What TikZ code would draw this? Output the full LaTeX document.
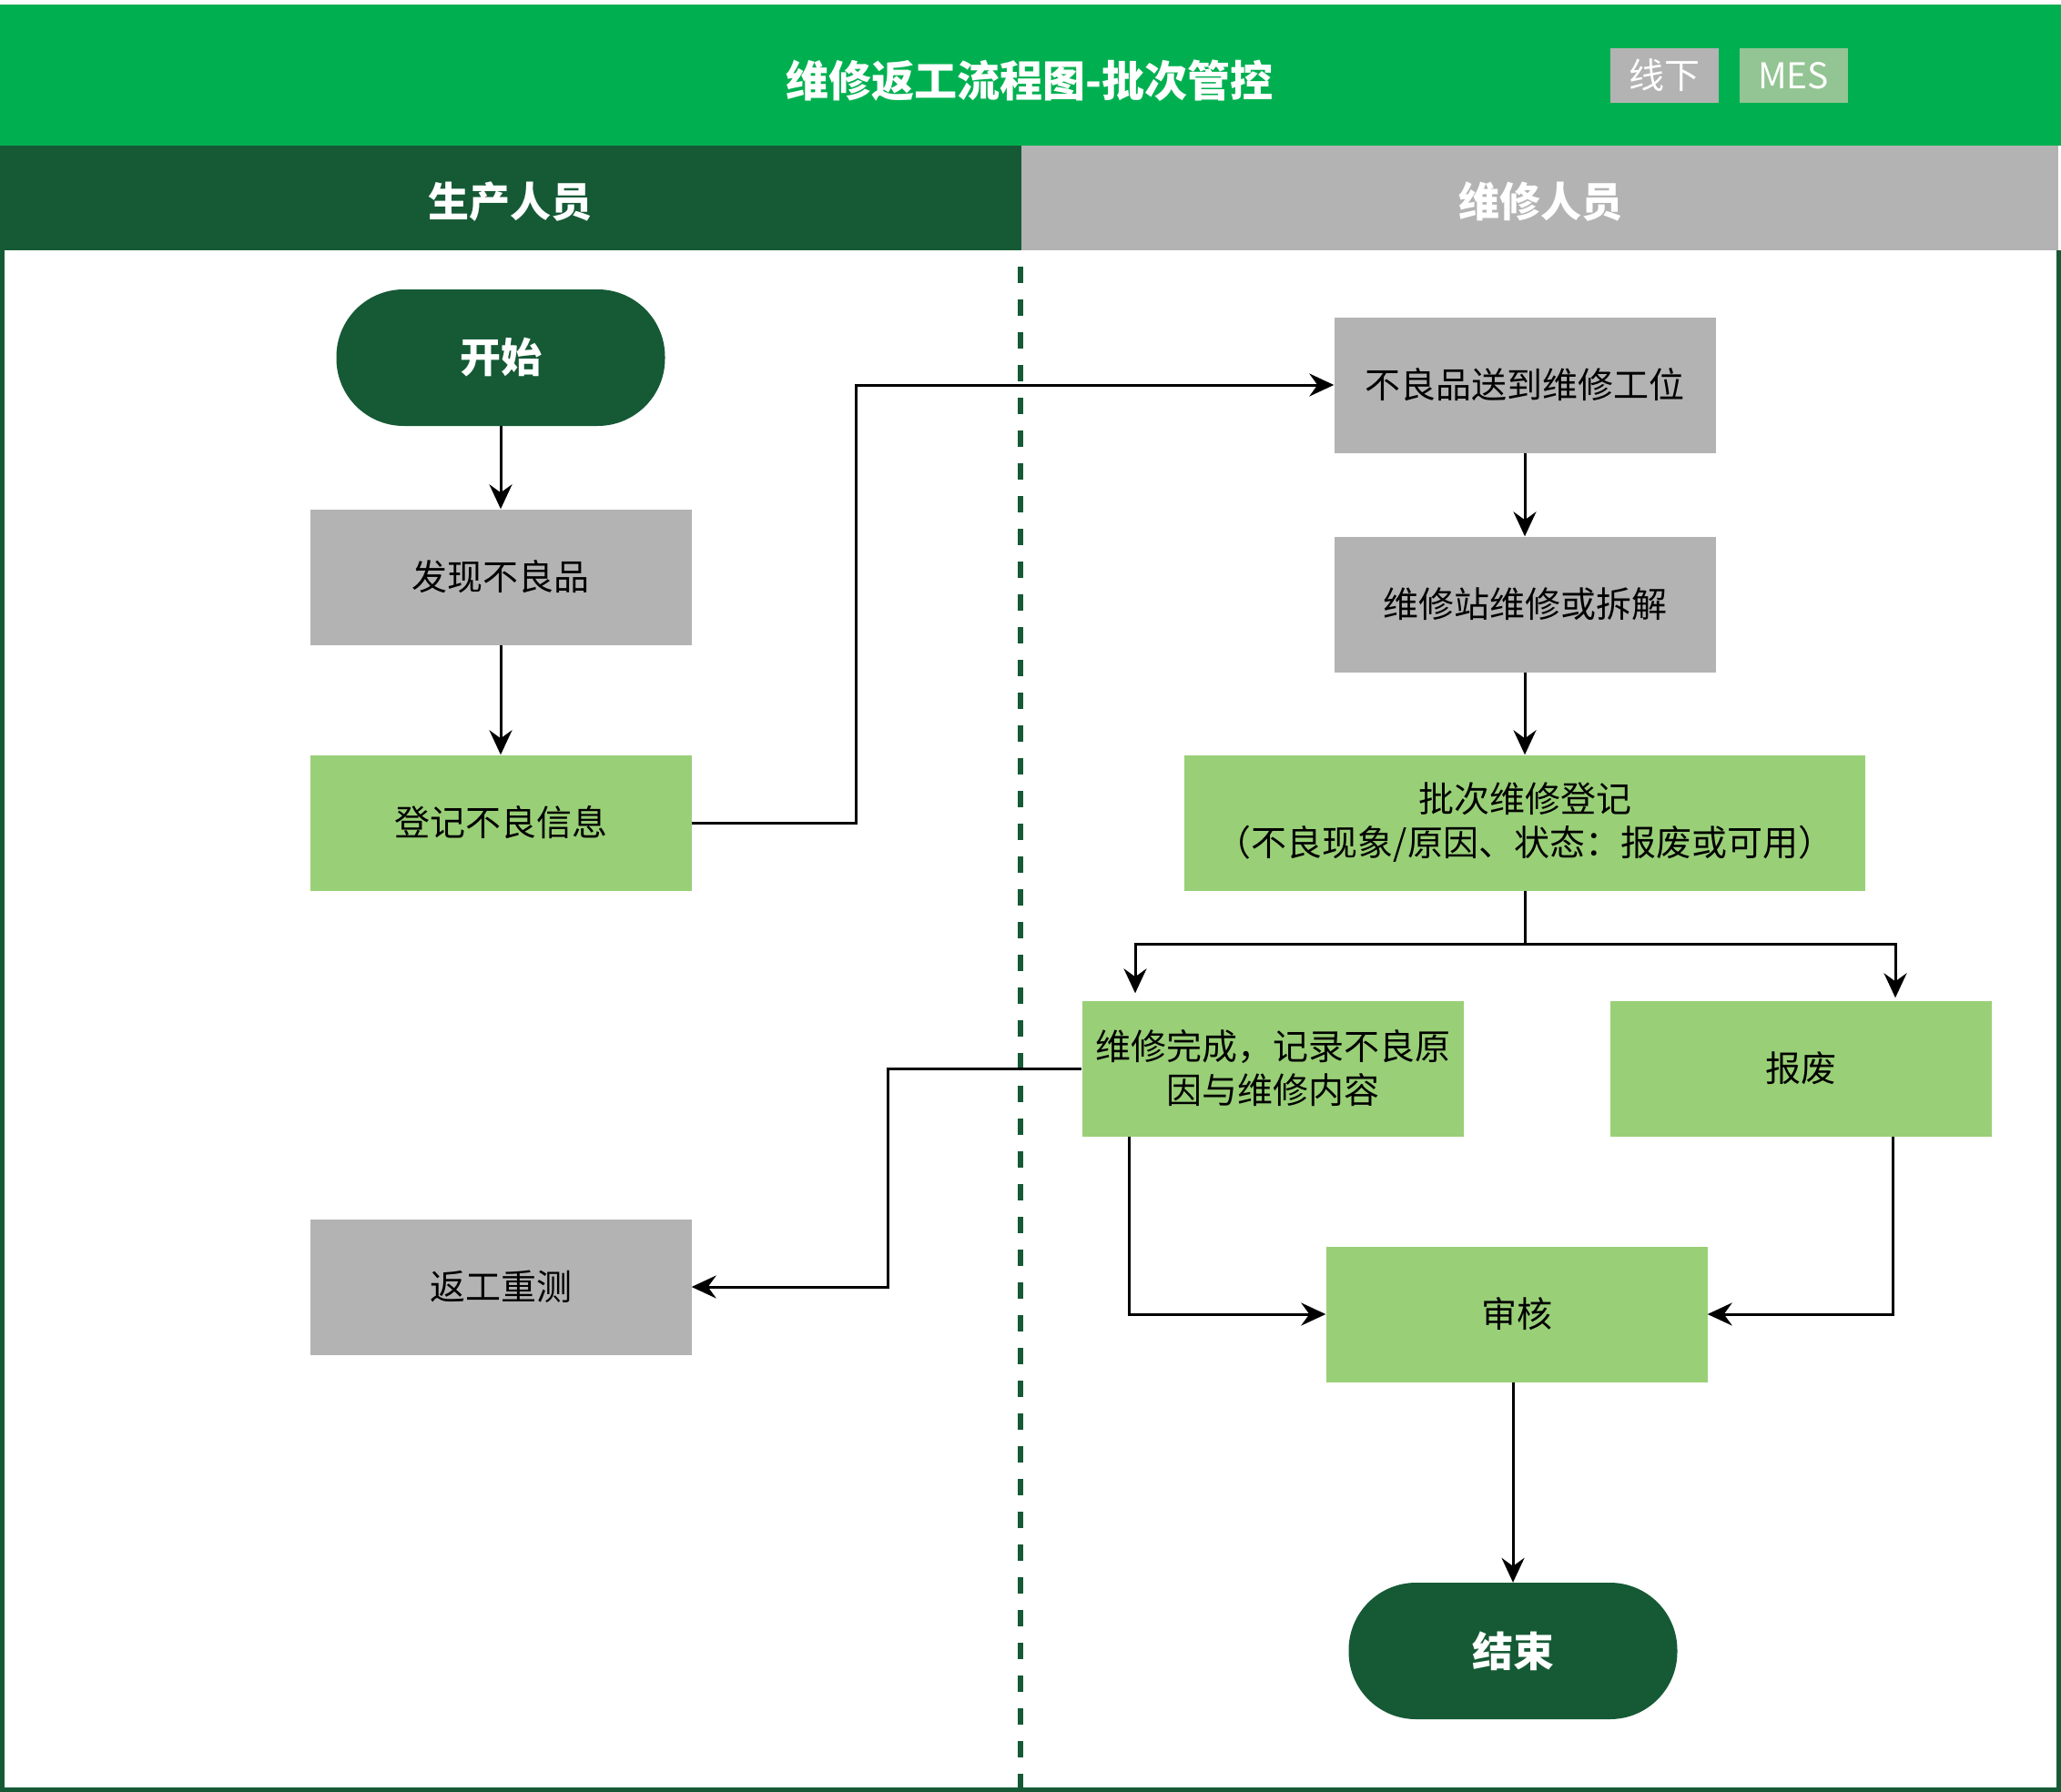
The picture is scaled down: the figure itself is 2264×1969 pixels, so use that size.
\documentclass[tikz,border=0pt]{standalone}
\usepackage{fontspec}
\setmainfont{Noto Sans CJK SC}
\usetikzlibrary{arrows.meta}
\definecolor{titlegreen}{HTML}{00B050}
\definecolor{darkgreen}{HTML}{155A35}
\definecolor{boxgray}{HTML}{B3B3B3}
\definecolor{boxgreen}{HTML}{99D077}
\definecolor{mesgreen}{HTML}{93C493}
\begin{document}
\begin{tikzpicture}[x=1pt,y=-1pt,
  box/.style={rectangle, inner sep=0pt, minimum width=419pt, minimum height=149pt,
    text=black, align=center, font=\fontsize{39}{48}\selectfont},
  graybox/.style={box, fill=boxgray},
  greenbox/.style={box, fill=boxgreen},
  terminal/.style={rectangle, rounded corners=74pt, fill=darkgreen, inner sep=0pt,
    minimum width=361pt, minimum height=150pt, text=white, font=\fontsize{45}{50}\selectfont\bfseries},
  arr/.style={line width=3pt, draw=black, -{Stealth[length=27pt,width=25pt,inset=9pt]}},
  legend/.style={rectangle, inner sep=0pt, minimum width=119pt, minimum height=60pt,
    text=white, font=\fontsize{39}{44}\selectfont}
]
\useasboundingbox (0,0) rectangle (2264,1969);
\fill[white] (0,0) rectangle (2264,1969);
% title bar
\fill[titlegreen] (0,5) rectangle (2264,160);
\node[text=white, font=\fontsize{47}{52}\selectfont\bfseries] (title) at (1131,89) {维修返工流程图-批次管控};
\node[legend, fill=boxgray] (lgoff) at (1828,83) {线下};
\node[legend, fill=mesgreen] (lgmes) at (1970,83) {MES};
% lane headers
\fill[darkgreen] (0,160) rectangle (1122,275);
\fill[boxgray] (1122,160) rectangle (2261,275);
\node[text=white, font=\fontsize{45}{50}\selectfont\bfseries] (lane1) at (560,222) {生产人员};
\node[text=white, font=\fontsize{45}{50}\selectfont\bfseries] (lane2) at (1692,222) {维修人员};
% frame
\draw[darkgreen, line width=5pt] (2.5,275) -- (2.5,1966) -- (2261,1966) -- (2261,275);
% lane divider
\draw[darkgreen, line width=6pt, dash pattern=on 18pt off 18pt] (1121,293) -- (1121,1965);
% nodes
\node[terminal] (start) at (550,393) {开始};
\node[graybox] (find) at (550,634) {发现不良品};
\node[greenbox] (reg) at (550,904) {登记不良信息};
\node[graybox] (rework) at (550,1414) {返工重测};
\node[graybox] (send) at (1675,423) {不良品送到维修工位};
\node[graybox] (repair) at (1675,664) {维修站维修或拆解};
\node[greenbox, minimum width=748pt] (batch) at (1675,904) {批次维修登记\\（不良现象/原因、状态：报废或可用）};
\node[greenbox] (done) at (1398,1174) {维修完成，记录不良原\\因与维修内容};
\node[greenbox] (scrap) at (1978,1174) {报废};
\node[greenbox] (audit) at (1666,1444) {审核};
\node[terminal] (end) at (1662,1814) {结束};
% connectors
\draw[arr] (start) -- (find);
\draw[arr] (find) -- (reg);
\draw[arr] (reg.east) -- (940,904) |- (send.west);
\draw[arr] (send) -- (repair);
\draw[arr] (repair) -- (batch);
\coordinate (split) at (1675,1037);
\draw[arr, shorten >=8pt] (batch.south) -- (split) -| ([xshift=-151pt]done.north);
\draw[arr, shorten >=3pt] (split) -| ([xshift=104pt]scrap.north);
\draw[arr] (done.west) -- (975,1174) |- (rework.east);
\draw[arr] ([xshift=-158pt]done.south) |- (audit.west);
\draw[arr] ([xshift=101pt]scrap.south) |- (audit.east);
\draw[arr] (audit.south -| end.north) -- (end.north);
\end{tikzpicture}
\end{document}
